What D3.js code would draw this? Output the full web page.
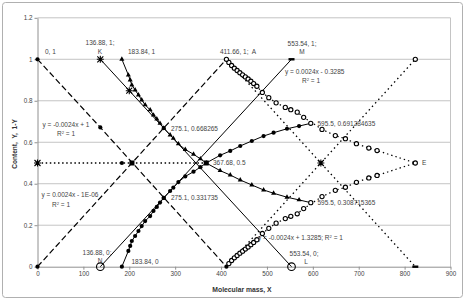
<!DOCTYPE html>
<html>
<head>
<meta charset="utf-8">
<script src="https://cdn.jsdelivr.net/npm/d3@7"></script>
<style>
  body { margin: 0; background: #fff; }
  svg { display: block; font-family: "Liberation Sans", Arial, sans-serif; }
</style>
</head>
<body>
<div id="chart"></div>
<script>
// axis ticks
const xTicks = [0, 100, 200, 300, 400, 500, 600, 700, 800, 900];
const yTicks = [0, 0.2, 0.4, 0.6, 0.8, 1, 1.2];

// straight reference lines (x, y pairs)
const dashDown = [[0, 1], [136.88, 0.6715], [411.66, 0]];
const dashUp = [[0, 0], [411.66, 1]];
const lineKL = [[136.88, 1], [553.54, 0]];
const lineNM = [[136.88, 0], [553.54, 1]];
const halfLine = [[0, 0.5], [183.84, 0.5], [205.83, 0.5], [367.68, 0.5]];
const dotUp = [[411.66, 0], [823.32, 1]];
const dotDown = [[411.66, 1], [823.32, 0]];

// Y curve (triangles) and 1-Y curve (filled circles)
const curveX = [183.84, 198, 202, 205.5, 212.7, 220, 227, 234.6, 245.5, 252.7, 260, 267, 275.1,
                289, 296, 307, 322, 340, 355, 367.68, 398, 420, 441.8, 467, 492.7, 514.5, 543.7, 570, 595.5];
const curveY = [1, 0.924, 0.9, 0.876, 0.852, 0.828, 0.804, 0.78, 0.756, 0.731, 0.712, 0.691, 0.668265,
                0.635, 0.619, 0.592, 0.565, 0.542, 0.52, 0.5, 0.463, 0.442, 0.418, 0.394, 0.37, 0.354, 0.335, 0.322, 0.308715365];
const curve1mY = [0, 0.076, 0.1, 0.124, 0.148, 0.172, 0.196, 0.22, 0.244, 0.269, 0.288, 0.309, 0.331735,
                  0.365, 0.381, 0.408, 0.435, 0.458, 0.48, 0.5, 0.537, 0.558, 0.582, 0.606, 0.63, 0.646, 0.665, 0.678, 0.691284635];

// open circle curves from A / B to E
const ringX = [411.66, 417, 423, 429, 435, 441, 447, 453, 459, 465, 471, 478, 490, 504, 520, 540, 552, 566, 580,
               620, 649, 671, 695, 722, 740, 823.32];
const ringUpper = [1, 0.985, 0.97, 0.957, 0.946, 0.935, 0.925, 0.915, 0.905, 0.894, 0.883, 0.87, 0.84, 0.815, 0.79,
                   0.768, 0.757, 0.745, 0.72, 0.662, 0.632, 0.617, 0.593, 0.572, 0.56, 0.5];
const ringLower = [0, 0.015, 0.03, 0.043, 0.054, 0.065, 0.075, 0.085, 0.095, 0.106, 0.117, 0.13, 0.16, 0.185, 0.21,
                   0.232, 0.243, 0.255, 0.28, 0.338, 0.368, 0.383, 0.407, 0.428, 0.44, 0.5];

// single markers
const starPts = [[0, 0.5], [136.88, 1], [200, 0.8485], [617.49, 0.5]];
const dotPts = [[0, 1], [0, 0], [136.88, 0.6715], [411.66, 0], [183.84, 0.5], [275.1, 0.668265], [275.1, 0.331735]];
const squarePts = [[205.83, 0.5], [367.68, 0.5]];
const openPts = [[411.66, 1], [823.32, 1], [595.5, 0.691284635], [595.5, 0.308715365], [823.32, 0.5]];
const bigOpenPts = [[136.88, 0], [553.54, 0]];
const barPts = [[553.54, 1], [823.32, 0]];

const width = 467, height = 301;
const svg = d3.select("#chart").append("svg")
    .attr("width", width)
    .attr("height", height);

svg.append("rect")
    .attr("x", 2.5).attr("y", 2.5)
    .attr("width", 460).attr("height", 295)
    .attr("rx", 3)
    .style("fill", "#fff")
    .style("stroke", "#b0b0b0");

const x = d3.scaleLinear().domain([0, 900]).range([37.5, 450.5]);
const y = d3.scaleLinear().domain([0, 1.2]).range([266.7, 17.8]);

// grid
svg.append("g").selectAll("line")
    .data(yTicks.filter(d => d > 0))
    .enter().append("line")
    .attr("x1", x(0)).attr("x2", x(900))
    .attr("y1", d => y(d)).attr("y2", d => y(d))
    .style("stroke", "#c4c4c4");
svg.append("line")
    .attr("x1", x(900)).attr("x2", x(900))
    .attr("y1", y(1.2)).attr("y2", y(0))
    .style("stroke", "#c4c4c4");

// axes
const xAxis = svg.append("g")
    .attr("transform", `translate(0,${y(0)})`)
    .call(d3.axisBottom(x).tickValues(xTicks).tickSize(3).tickPadding(2).tickSizeOuter(0));
const yAxis = svg.append("g")
    .attr("transform", `translate(${x(0)},0)`)
    .call(d3.axisLeft(y).tickValues(yTicks).tickSize(3).tickPadding(2).tickSizeOuter(0)
        .tickFormat(d3.format("~g")));
[xAxis, yAxis].forEach(a => {
    a.select(".domain").style("stroke", "#909090");
    a.selectAll(".tick line").style("stroke", "#909090");
    a.selectAll(".tick text").style("font-size", "6.3px").style("fill", "#444").style("font-family", null);
});

svg.append("text")
    .attr("x", 242).attr("y", 291.5)
    .attr("text-anchor", "middle")
    .style("font-size", "6.8px").style("font-weight", "bold").style("fill", "#333")
    .text("Molecular mass, X");
svg.append("text")
    .attr("transform", "translate(17,144) rotate(-90)")
    .attr("text-anchor", "middle")
    .attr("xml:space", "preserve")
    .style("font-size", "6.6px").style("font-weight", "bold").style("fill", "#333")
    .text("Content,  Y,  1-Y");

const line = d3.line().x(d => x(d[0])).y(d => y(d[1]));
const zip = (xs, ys) => xs.map((v, i) => [v, ys[i]]);

function drawLine(pts, dash, w) {
    svg.append("path")
        .attr("d", line(pts))
        .style("fill", "none")
        .style("stroke", "#000")
        .style("stroke-width", w)
        .style("stroke-dasharray", dash);
}

drawLine(dashDown, "6,3", 1.2);
drawLine(dashUp, "6,3", 1.2);
drawLine(lineKL, null, 1);
drawLine(lineNM, null, 1);
drawLine(halfLine, "1.5,2.6", 1.4);
drawLine(dotUp, "1.5,3.2", 1.3);
drawLine(dotDown, "1.5,3.2", 1.3);
drawLine(zip(ringX, ringUpper), "1.4,3", 1.2);
drawLine(zip(ringX, ringLower), "1.4,3", 1.2);
drawLine(zip(curveX, curveY), null, 1);
drawLine(zip(curveX, curve1mY), null, 1);

// markers
const last = curveX.length - 1;
svg.append("g").selectAll("path")
    .data(zip(curveX, curveY).slice(0, last))
    .enter().append("path")
    .attr("d", d3.symbol(d3.symbolTriangle, 11))
    .attr("transform", d => `translate(${x(d[0])},${y(d[1])})`)
    .style("fill", "#000");
svg.append("g").selectAll("circle")
    .data(zip(curveX, curve1mY).slice(0, last).concat(dotPts))
    .enter().append("circle")
    .attr("cx", d => x(d[0])).attr("cy", d => y(d[1]))
    .attr("r", 2.1)
    .style("fill", "#000");
svg.append("g").selectAll("circle")
    .data(zip(ringX, ringUpper).slice(1, -1).concat(zip(ringX, ringLower).slice(1, -1)).concat(openPts))
    .enter().append("circle")
    .attr("cx", d => x(d[0])).attr("cy", d => y(d[1]))
    .attr("r", 2.1)
    .style("fill", "#fff")
    .style("stroke", "#000")
    .style("stroke-width", 1.1);
svg.append("g").selectAll("circle")
    .data(bigOpenPts)
    .enter().append("circle")
    .attr("cx", d => x(d[0])).attr("cy", d => y(d[1]))
    .attr("r", 3.8)
    .style("fill", "none")
    .style("stroke", "#000")
    .style("stroke-width", 1.1);
svg.append("g").selectAll("rect")
    .data(squarePts)
    .enter().append("rect")
    .attr("x", d => x(d[0]) - 2.5).attr("y", d => y(d[1]) - 2.5)
    .attr("width", 5).attr("height", 5)
    .style("fill", "#000");
svg.append("g").selectAll("rect")
    .data(barPts)
    .enter().append("rect")
    .attr("x", d => x(d[0]) - 3).attr("y", d => y(d[1]) - 1.2)
    .attr("width", 6).attr("height", 2.4)
    .style("fill", "#000");
svg.append("g").selectAll("path")
    .data(starPts)
    .enter().append("path")
    .attr("d", "M-3,-3L3,3M-3,3L3,-3M0,-3.5V3.5M-3.5,0H3.5")
    .attr("transform", d => `translate(${x(d[0])},${y(d[1])})`)
    .style("stroke", "#000")
    .style("stroke-width", 1.1);

// annotations (text, left x, centre y in pixels)
const notes = [
    ["0, 1", 45, 52], ["136.88, 1;", 100, 43, "middle"], ["K", 100, 52, "middle"],
    ["183.84, 1", 128, 52], ["411.66, 1;  A", 220, 52],
    ["553.54, 1;", 302, 44, "middle"], ["M", 302, 52, "middle"],
    ["y = 0.0024x - 0.3285", 285, 72], ["R2 = 1", 302, 81],
    ["y = -0.0024x + 1", 42.5, 124.5], ["R2 = 1", 57, 133.5],
    ["y = 0.0024x - 1E-06", 41.5, 195], ["R2 = 1", 52, 205],
    ["275.1, 0.668265", 171, 129], ["367.68, 0.5", 213, 162.5], ["275.1, 0.331735", 171, 198],
    ["595.5, 0.691284635", 317.5, 123.5], ["595.5, 0.308715365", 317.5, 203], ["E", 422, 163],
    ["y = -0.0024x + 1.3285; R2 = 1", 258, 237.5],
    ["136.88, 0;", 97, 252.5, "middle"], ["N", 100, 260.5, "middle"], ["183.84, 0", 131.5, 262],
    ["553.54, 0;", 304, 253.5, "middle"], ["L", 306, 262, "middle"]
];
notes.forEach(n => {
    const t = svg.append("text")
        .attr("x", n[1]).attr("y", n[2] + 2.2)
        .attr("text-anchor", n[3] || "start")
        .attr("xml:space", "preserve")
        .style("font-size", "6.5px")
        .style("fill", "#444");
    const parts = n[0].split("R2");
    t.append("tspan").text(parts[0]);
    if (parts.length > 1) {
        t.append("tspan").text("R");
        t.append("tspan").attr("dy", -2.2).style("font-size", "4.2px").text("2");
        t.append("tspan").attr("dy", 2.2).text(parts[1]);
    }
});
</script>
</body>
</html>
